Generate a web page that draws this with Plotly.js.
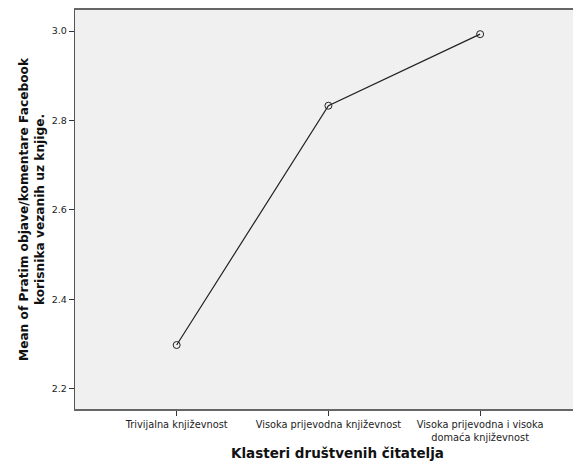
<!DOCTYPE html>
<html>
<head>
<meta charset="utf-8">
<script src="https://cdn.plot.ly/plotly-3.0.1.min.js"></script>
<style>html,body{margin:0;padding:0;overflow:hidden;background:#fff;}</style>
</head>
<body>
<div id="chart" style="width:600px;height:461px;"></div>
<script>
const categories = ["Trivijalna književnost", "Visoka prijevodna književnost", "Visoka prijevodna i visoka<br>domaća književnost"];
const means = [2.298, 2.833, 2.993];
const yTicks = [2.2, 2.4, 2.6, 2.8, 3.0];
const yTickLabels = ["2.2", "2.4", "2.6", "2.8", "3.0"];

const trace = {
  x: [0, 1, 2],
  y: means,
  type: 'scatter',
  mode: 'lines+markers',
  line: {color: '#222', width: 1.2},
  marker: {symbol: 'circle-open', size: 7, color: '#222', line: {width: 1}},
  hoverinfo: 'skip'
};

const layout = {
  width: 600, height: 461,
  margin: {l: 75, r: 0, t: 10, b: 52},
  paper_bgcolor: '#ffffff',
  plot_bgcolor: '#f0f0f0',
  showlegend: false,
  font: {family: 'DejaVu Sans, sans-serif', color: '#222'},
  xaxis: {
    range: [-0.67, 2.79],
    tickmode: 'array',
    tickvals: [0, 1, 2],
    ticktext: categories,
    ticks: 'outside', ticklen: 5, tickcolor: '#333', tickwidth: 1,
    showgrid: false, zeroline: false,
    showline: true, linecolor: '#666', linewidth: 2, mirror: true,
    tickfont: {size: 9.8, color: '#222'},
    title: {text: 'Klasteri društvenih čitatelja', font: {size: 13.5, color: '#111', family: 'DejaVu Sans, sans-serif', weight: 'bold'}, standoff: 7}
  },
  yaxis: {
    range: [2.155, 3.047],
    tickmode: 'array',
    tickvals: yTicks,
    ticktext: yTickLabels,
    ticks: 'outside', ticklen: 5, tickcolor: '#333', tickwidth: 1,
    showgrid: false, zeroline: false,
    showline: true, linecolor: '#555', linewidth: 1.2, mirror: false,
    tickfont: {size: 9.5, color: '#222'},
    title: {text: 'Mean of Pratim objave/komentare Facebook<br>korisnika vezanih uz knjige.', font: {size: 12.2, color: '#111', family: 'DejaVu Sans, sans-serif', weight: 'bold'}, standoff: 4}
  }
};

Plotly.newPlot('chart', [trace], layout, {displayModeBar: false, staticPlot: true});
</script>
</body>
</html>
